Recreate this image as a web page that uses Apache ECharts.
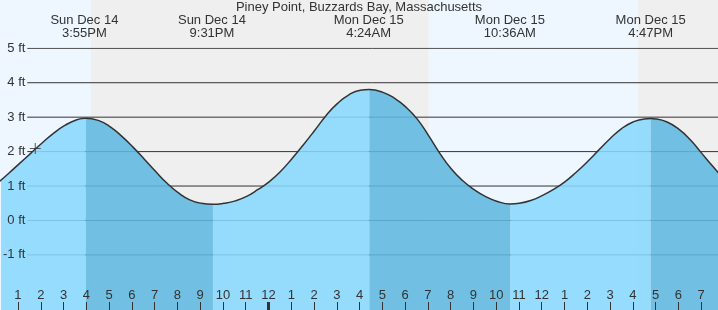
<!DOCTYPE html>
<html>
<head>
<meta charset="utf-8">
<script src="https://cdn.jsdelivr.net/npm/echarts@6/dist/echarts.min.js"></script>
<style>
html,body{margin:0;padding:0;background:#eef7ff;}
#chart{width:718px;height:310px;}
</style>
</head>
<body>
<div id="chart"></div>
<script>
// ---- data (hours counted from Sun Dec 14 00:00) ----
const titleText = 'Piney Point, Buzzards Bay, Massachusetts';
const tideHours = [12.0, 12.5, 13.0, 13.5, 14.0, 14.5, 15.0, 15.5, 15.917, 16.5, 17.0, 17.5, 18.0, 18.5, 19.0, 19.5, 20.0, 20.5, 21.0, 21.517,
  22.0, 22.5, 23.0, 23.5, 24.0, 24.5, 25.0, 25.5, 26.0, 26.5, 27.0, 27.5, 28.0, 28.4, 29.0, 29.5, 30.0, 30.5, 31.0, 31.5, 32.0, 32.5, 33.0, 33.5, 34.0, 34.6,
  35.0, 35.5, 36.0, 36.5, 37.0, 37.5, 38.0, 38.5, 39.0, 39.5, 40.0, 40.5, 40.783, 41.0, 41.5, 42.0, 42.5, 43.0, 43.5, 44.0];
const tideFeet = [1.06, 1.35, 1.65, 1.95, 2.25, 2.53, 2.76, 2.92, 2.97, 2.90, 2.72, 2.45, 2.13, 1.78, 1.42, 1.08, 0.80, 0.60, 0.50, 0.47,
  0.50, 0.57, 0.70, 0.90, 1.13, 1.43, 1.80, 2.20, 2.62, 3.05, 3.40, 3.65, 3.78, 3.80, 3.72, 3.55, 3.30, 2.95, 2.47, 1.95, 1.50, 1.16, 0.90, 0.70, 0.56, 0.48,
  0.50, 0.58, 0.72, 0.90, 1.12, 1.40, 1.71, 2.05, 2.38, 2.67, 2.86, 2.95, 2.96, 2.95, 2.86, 2.66, 2.36, 1.97, 1.58, 1.20];
const extremeHours = [15.917, 21.517, 28.4, 34.6, 40.783];
const extremeTypes = ['H', 'L', 'H', 'L', 'H'];
const extremeLabels = ['Sun Dec 14\n3:55PM', 'Sun Dec 14\n9:31PM', 'Mon Dec 15\n4:24AM', 'Mon Dec 15\n10:36AM', 'Mon Dec 15\n4:47PM'];
const nightRanges = [[16.2, 31.04], [40.23, 44.0]];
const hourTicks = [12, 13, 14, 15, 16, 17, 18, 19, 20, 21, 22, 23, 24, 25, 26, 27, 28, 29, 30, 31, 32, 33, 34, 35, 36, 37, 38, 39, 40, 41, 42, 43];
const midnightTicks = [24];
const feetTicks = [-1, 0, 1, 2, 3, 4, 5];
const nowMark = [13.7, 2.09];
const viewStart = 12.21, viewEnd = 43.74;
const feetMin = -2.6, feetMax = 5;
const gridLineStart = 13.35;

// ---- build ----
const n = extremeHours.length;
function inFalling(t) {
  for (let k = 0; k < n; k++) {
    if (extremeTypes[k] === 'H' && t >= extremeHours[k] && (k === n - 1 || t <= extremeHours[k + 1])) return true;
  }
  return false;
}
function inRising(t) {
  if (extremeTypes[0] === 'H' && t <= extremeHours[0]) return true;
  for (let k = 0; k < n; k++) {
    if (extremeTypes[k] === 'L' && t >= extremeHours[k] && (k === n - 1 || t <= extremeHours[k + 1])) return true;
  }
  return false;
}
const full = tideHours.map((t, i) => [t, tideFeet[i]]);
const rising = tideHours.map((t, i) => inRising(t) ? [t, tideFeet[i]] : [t, '-']);
const falling = tideHours.map((t, i) => inFalling(t) ? [t, tideFeet[i]] : [t, '-']);

const FONT = 'Liberation Sans, Arial, Helvetica, sans-serif';
const TXT = '#333';
const hourLabel = v => { const h = Math.round(v) % 12; return String(h === 0 ? 12 : h); };

const gridLineSeries = feetTicks.map(v => ({
  type: 'line', xAxisIndex: 3, yAxisIndex: 1, silent: true, symbol: 'none', z: 1,
  data: [[gridLineStart, v], [viewEnd, v]],
  lineStyle: { color: '#333', width: 1 }
}));

const chart = echarts.init(document.getElementById('chart'), null, { renderer: 'canvas' });
chart.setOption({
  animation: false,
  backgroundColor: '#eef7ff',
  textStyle: { fontFamily: FONT },
  title: {
    text: titleText, left: 'center', top: 1, padding: 0, z: 20,
    textStyle: { fontSize: 13, fontWeight: 'normal', color: TXT, fontFamily: FONT, lineHeight: 13 }
  },
  grid: [
    { left: 0, right: 0, top: 0, bottom: 0 },
    { left: 0, right: 0, top: 48.3, bottom: 0 }
  ],
  xAxis: [
    { gridIndex: 0, type: 'value', min: viewStart, max: viewEnd, position: 'bottom', z: 20,
      axisLine: { show: false }, splitLine: { show: false },
      axisTick: { show: true, inside: true, length: 8, customValues: hourTicks, lineStyle: { color: TXT, width: 1 } },
      axisLabel: { show: true, inside: true, margin: 8, customValues: hourTicks, formatter: hourLabel, color: TXT, fontSize: 13, fontFamily: FONT } },
    { gridIndex: 0, type: 'value', min: viewStart, max: viewEnd, position: 'top', z: 20,
      axisLine: { show: false }, splitLine: { show: false }, axisTick: { show: false },
      axisLabel: { show: true, inside: true, margin: 14, customValues: extremeHours,
        formatter: v => { let best = 0; extremeHours.forEach((e, i) => { if (Math.abs(e - v) < Math.abs(extremeHours[best] - v)) best = i; }); return extremeLabels[best]; },
        color: TXT, fontSize: 13, lineHeight: 13, align: 'center', fontFamily: FONT } },
    { gridIndex: 0, type: 'value', min: viewStart, max: viewEnd, position: 'bottom', z: 21,
      axisLine: { show: false }, splitLine: { show: false }, axisLabel: { show: false },
      axisTick: { show: true, inside: true, length: 8, customValues: midnightTicks, lineStyle: { color: TXT, width: 3 } } },
    { gridIndex: 1, type: 'value', min: viewStart, max: viewEnd, show: false }
  ],
  yAxis: [
    { gridIndex: 0, type: 'value', min: 0, max: 1, show: false },
    { gridIndex: 1, type: 'value', min: feetMin, max: feetMax, position: 'left', offset: -26, z: 20,
      axisLine: { show: false }, axisTick: { show: false }, splitLine: { show: false },
      axisLabel: { margin: 2, customValues: feetTicks, color: TXT, fontSize: 13, fontFamily: FONT, formatter: v => v + ' ft' } }
  ],
  series: [
    { name: 'night', type: 'line', xAxisIndex: 0, yAxisIndex: 0, data: [[viewStart, 0]], symbol: 'none', z: 0,
      lineStyle: { opacity: 0 }, silent: true,
      markArea: { silent: true, z: 0, itemStyle: { color: '#efefef', opacity: 1 },
        data: nightRanges.map(r => [{ xAxis: r[0] }, { xAxis: r[1] }]) } },
    ...gridLineSeries,
    { name: 'rising', type: 'line', xAxisIndex: 3, yAxisIndex: 1, data: rising, smooth: true, symbol: 'none', z: 2,
      connectNulls: false, lineStyle: { width: 0 }, areaStyle: { color: 'rgba(135,216,254,0.87)', opacity: 1, origin: 'start' } },
    { name: 'falling', type: 'line', xAxisIndex: 3, yAxisIndex: 1, data: falling, smooth: true, symbol: 'none', z: 2,
      connectNulls: false, lineStyle: { width: 0 }, areaStyle: { color: 'rgba(94,184,224,0.87)', opacity: 1, origin: 'start' } },
    { name: 'tide', type: 'line', xAxisIndex: 3, yAxisIndex: 1, data: full, smooth: true, symbol: 'none', z: 3,
      lineStyle: { color: '#333', width: 1.5 } },
    { name: 'now', type: 'scatter', xAxisIndex: 3, yAxisIndex: 1, data: [nowMark], z: 4,
      symbol: 'path://M0,5L10,5M5,0L5,10', symbolSize: 11,
      itemStyle: { color: 'none', borderColor: '#333', borderWidth: 1 } }
  ]
});
</script>
</body>
</html>
